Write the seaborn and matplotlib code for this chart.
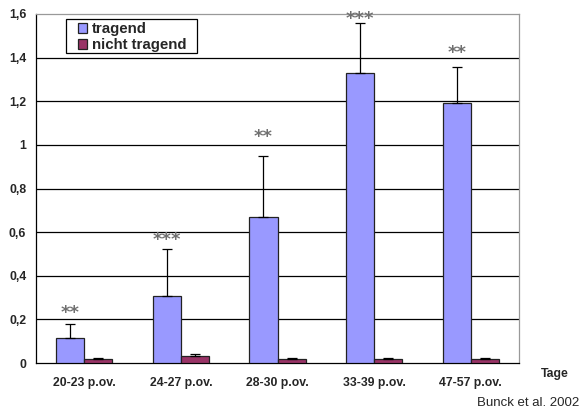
import numpy as np
import pandas as pd
import matplotlib
matplotlib.use("Agg")
import matplotlib.pyplot as plt
import seaborn as sns
from matplotlib.ticker import FixedLocator, FuncFormatter
from matplotlib.patches import Rectangle

categories = ["20-23 p.ov.", "24-27 p.ov.", "28-30 p.ov.", "33-39 p.ov.", "47-57 p.ov."]
series_names = ["tragend", "nicht tragend"]
tragend = [0.113, 0.307, 0.668, 1.329, 1.191]
tragend_err = [0.064, 0.214, 0.282, 0.228, 0.165]
nicht = [0.020, 0.031, 0.020, 0.020, 0.020]
nicht_err = [0.002, 0.008, 0.002, 0.002, 0.002]
stars = ["**", "***", "**", "***", "**"]
star_y = [0.23, 0.564, 1.035, 1.578, 1.423]
y_ticks = [0, 0.2, 0.4, 0.6, 0.8, 1.0, 1.2, 1.4, 1.6]

sns.set_theme(style="white")
plt.rcParams['font.family'] = ['Liberation Sans', 'DejaVu Sans']

df = pd.DataFrame({
    "Tage": categories * 2,
    "Wert": tragend + nicht,
    "Gruppe": [series_names[0]] * len(categories) + [series_names[1]] * len(categories),
})

fig = plt.figure(figsize=(5.81, 4.12), dpi=100)
ax = fig.add_axes([36 / 581, 1 - 363 / 412, 483 / 581, 349 / 412])

sns.barplot(data=df, x="Tage", y="Wert", hue="Gruppe", order=categories,
            hue_order=series_names, palette=["#9999FF", "#993366"],
            saturation=1, width=0.58, gap=0, errorbar=None, edgecolor="#222222",
            linewidth=0.9, ax=ax, legend=True, zorder=3)

errs = [tragend_err, nicht_err]
vals = [tragend, nicht]
for cont, v, e in zip(ax.containers, vals, errs):
    xs = [p.get_x() + p.get_width() / 2 for p in cont.patches]
    ax.errorbar(xs, v, yerr=[np.zeros(len(v)), e], fmt="none", ecolor="black",
                elinewidth=0.9, capsize=3.5, capthick=0.9, zorder=4)

blue_x = [p.get_x() + p.get_width() / 2 for p in ax.containers[0].patches]
for x, s, y in zip(blue_x, stars, star_y):
    ax.text(x, y, s, ha="center", va="center", color="#707070", fontsize=13,
            fontweight="bold", family="DejaVu Sans", zorder=5)

ax.set_ylim(0, 1.6)
ax.set_xlim(-0.5, len(categories) - 0.5)
ax.yaxis.set_major_locator(FixedLocator(y_ticks))
ax.yaxis.set_major_formatter(FuncFormatter(lambda v, p: ("%g" % round(v, 1)).replace(".", ",")))
for t in y_ticks[1:-1]:
    ax.axhline(t, color="black", lw=0.9, zorder=1)

ax.set_xticks(range(len(categories)))
ax.set_xticklabels(categories, fontweight="bold", fontsize=8.8)
ax.xaxis.set_minor_locator(FixedLocator(np.arange(-0.5, len(categories), 1.0)))
ax.tick_params(axis="x", which="major", length=0, pad=10)
ax.tick_params(axis="x", which="minor", length=4, width=0.9, color="black", direction="out")
ax.tick_params(axis="y", which="major", length=4, width=0.9, color="black", direction="out",
               labelsize=8.8, pad=3)
for lab in ax.get_yticklabels():
    lab.set_fontweight("bold")

ax.set_xlabel("")
ax.set_ylabel("")
ax.spines["left"].set_color("black")
ax.spines["bottom"].set_color("black")
ax.spines["top"].set_color("#999999")
ax.spines["right"].set_color("#999999")
for s in ax.spines.values():
    s.set_linewidth(0.9)
    s.set_visible(True)

# legend frame drawn separately (asymmetric padding like the original)
frame = Rectangle((66 / 581, 1 - 53 / 412), 131 / 581, 34 / 412, transform=fig.transFigure,
                  facecolor="white", edgecolor="black", linewidth=0.9, zorder=4.5)
ax.add_patch(frame)
frame.set_clip_on(False)

leg = ax.legend(loc="upper left", bbox_to_anchor=(78 / 581, 1 - 22.5 / 412),
                bbox_transform=fig.transFigure, frameon=False,
                prop={"weight": "bold", "size": 10.8}, handlelength=0.6,
                handleheight=0.6, handletextpad=0.33, labelspacing=0.12,
                borderpad=0, borderaxespad=0)
leg.set_zorder(6)

fig.text(555 / 581, 1 - 374 / 412, "Tage", ha="center", va="center",
         fontweight="bold", fontsize=8.8)
fig.text(579 / 581, 1 - 403 / 412, "Bunck et al. 2002", ha="right", va="center",
         fontsize=9.5)

fig.savefig("out.png", dpi=100)
